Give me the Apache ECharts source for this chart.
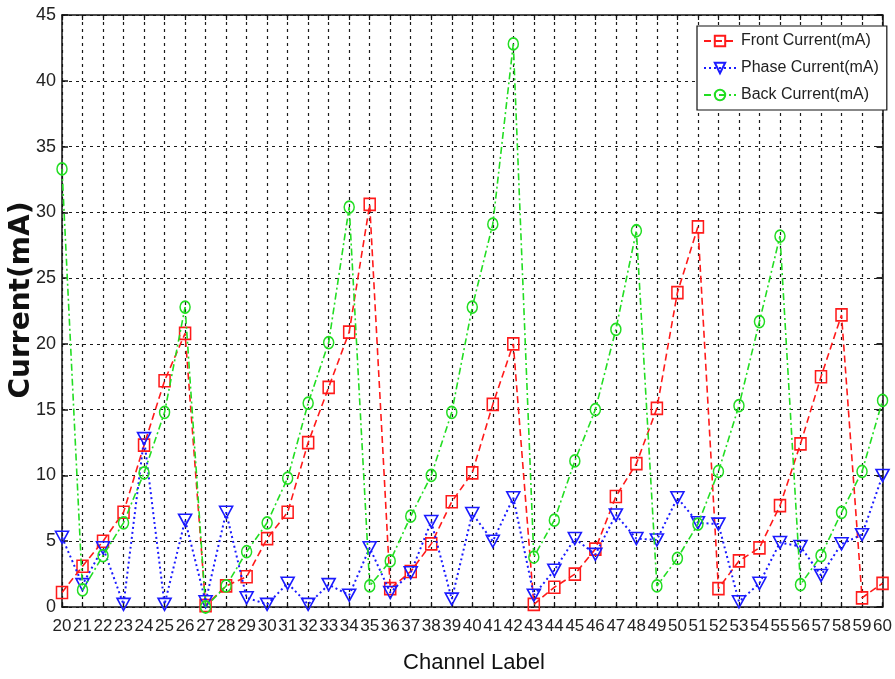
<!DOCTYPE html>
<html>
<head>
<meta charset="utf-8">
<script src="https://cdn.jsdelivr.net/npm/echarts@6/dist/echarts.min.js"></script>
<style>
html,body{margin:0;padding:0;background:#fff;}
#chart{width:895px;height:679px;}
</style>
</head>
<body>
<div id="chart"></div>
<script>
const channels = [20,21,22,23,24,25,26,27,28,29,30,31,32,33,34,35,36,37,38,39,40,41,42,43,44,45,46,47,48,49,50,51,52,53,54,55,56,57,58,59,60];
const frontCurrent = [1.1,3.1,5.0,7.2,12.3,17.2,20.8,0.1,1.6,2.3,5.2,7.2,12.5,16.7,20.9,30.6,1.4,2.7,4.8,8.0,10.2,15.4,20.0,0.2,1.5,2.5,4.4,8.4,10.9,15.1,23.9,28.9,1.4,3.5,4.5,7.7,12.4,17.5,22.2,0.7,1.8];
const phaseCurrent = [5.3,1.7,4.5,0.2,12.8,0.2,6.6,0.4,7.2,0.7,0.2,1.8,0.2,1.7,0.9,4.5,1.1,2.6,6.5,0.6,7.1,5.0,8.3,0.9,2.8,5.2,4.0,7.0,5.2,5.1,8.3,6.4,6.3,0.4,1.8,4.9,4.6,2.4,4.8,5.5,10.0];
const backCurrent = [33.3,1.3,3.9,6.4,10.2,14.8,22.8,0.0,1.6,4.2,6.4,9.8,15.5,20.1,30.4,1.6,3.5,6.9,10.0,14.8,22.8,29.1,42.8,3.8,6.6,11.1,15.0,21.1,28.6,1.6,3.7,6.3,10.3,15.3,21.7,28.2,1.7,3.9,7.2,10.3,15.7];
const seriesNames = ['Front Current(mA)','Phase Current(mA)','Back Current(mA)'];
const xTitle = 'Channel Label';
const yTitle = 'Current(mA)';

const SANS = '"Liberation Sans",Arial,sans-serif';
const pairs = arr => channels.map((c,i)=>[c,arr[i]]);

const chart = echarts.init(document.getElementById('chart'), null, {renderer:'canvas'});
const gridLine = {show:true, lineStyle:{color:'#1a1a1a', width:1.2, type:[3,4]}};
const frame = {show:true, onZero:false, lineStyle:{color:'#111', width:1.5}};

chart.setOption({
  backgroundColor:'#fff',
  animation:false,
  grid:{left:62,right:7,top:15,bottom:72,containLabel:false},
  xAxis:[
    {type:'value',min:20,max:60,interval:1,position:'bottom',
     axisLine:frame,axisTick:{show:true,inside:true,length:5,lineStyle:{color:'#111',width:1.2}},
     axisLabel:{fontFamily:SANS,fontSize:17,color:'#222',margin:11,hideOverlap:false,showMinLabel:true,showMaxLabel:true},
     splitLine:gridLine},
    {type:'value',min:20,max:60,interval:1,position:'top',
     axisLine:frame,axisTick:{show:true,inside:true,length:5,lineStyle:{color:'#111',width:1.2}},
     axisLabel:{show:false},splitLine:{show:false}}
  ],
  yAxis:[
    {type:'value',min:0,max:45,interval:5,position:'left',
     axisLine:frame,axisTick:{show:true,inside:true,length:6,lineStyle:{color:'#111',width:1.5}},
     axisLabel:{fontFamily:SANS,fontSize:18,color:'#222',margin:6,showMinLabel:true,showMaxLabel:true},
     splitLine:gridLine},
    {type:'value',min:0,max:45,interval:5,position:'right',
     axisLine:frame,axisTick:{show:true,inside:true,length:6,lineStyle:{color:'#111',width:1.8}},
     axisLabel:{show:false},splitLine:{show:false}}
  ],
  legend:{
    orient:'vertical',left:697,top:26,
    backgroundColor:'#fff',borderColor:'#111',borderWidth:1.2,
    padding:[7,8,7,6],itemGap:11,itemWidth:32,itemHeight:13,
    textStyle:{fontFamily:SANS,fontSize:16,color:'#222'},
    data:seriesNames
  },
  graphic:[
    {type:'text',x:22,y:300,rotation:Math.PI/2,
     style:{text:yTitle,font:'bold 28px "DejaVu Sans",sans-serif',fill:'#111',align:'center',verticalAlign:'middle'}},
    {type:'text',x:474,y:663,
     style:{text:xTitle,font:'22px '+SANS,fill:'#111',align:'center',verticalAlign:'middle'}}
  ],
  series:[
    {name:seriesNames[0],type:'line',data:pairs(frontCurrent),
     symbol:'rect',symbolSize:[11,12],
     lineStyle:{color:'#ff1a1a',width:1.6,type:[7,4]},
     itemStyle:{color:'rgba(0,0,0,0)',borderColor:'#ff1a1a',borderWidth:1.6},z:3},
    {name:seriesNames[1],type:'line',data:pairs(phaseCurrent),
     symbol:'triangle',symbolRotate:180,symbolSize:[13,12],
     lineStyle:{color:'#1a1aff',width:2,type:[2,3]},
     itemStyle:{color:'rgba(0,0,0,0)',borderColor:'#1a1aff',borderWidth:1.6},z:4},
    {name:seriesNames[2],type:'line',data:pairs(backCurrent),
     symbol:'circle',symbolSize:[10,12],
     lineStyle:{color:'#22dd22',width:1.6,type:[7,3,2,3]},
     itemStyle:{color:'rgba(0,0,0,0)',borderColor:'#22dd22',borderWidth:1.6},z:5}
  ]
});
</script>
</body>
</html>
